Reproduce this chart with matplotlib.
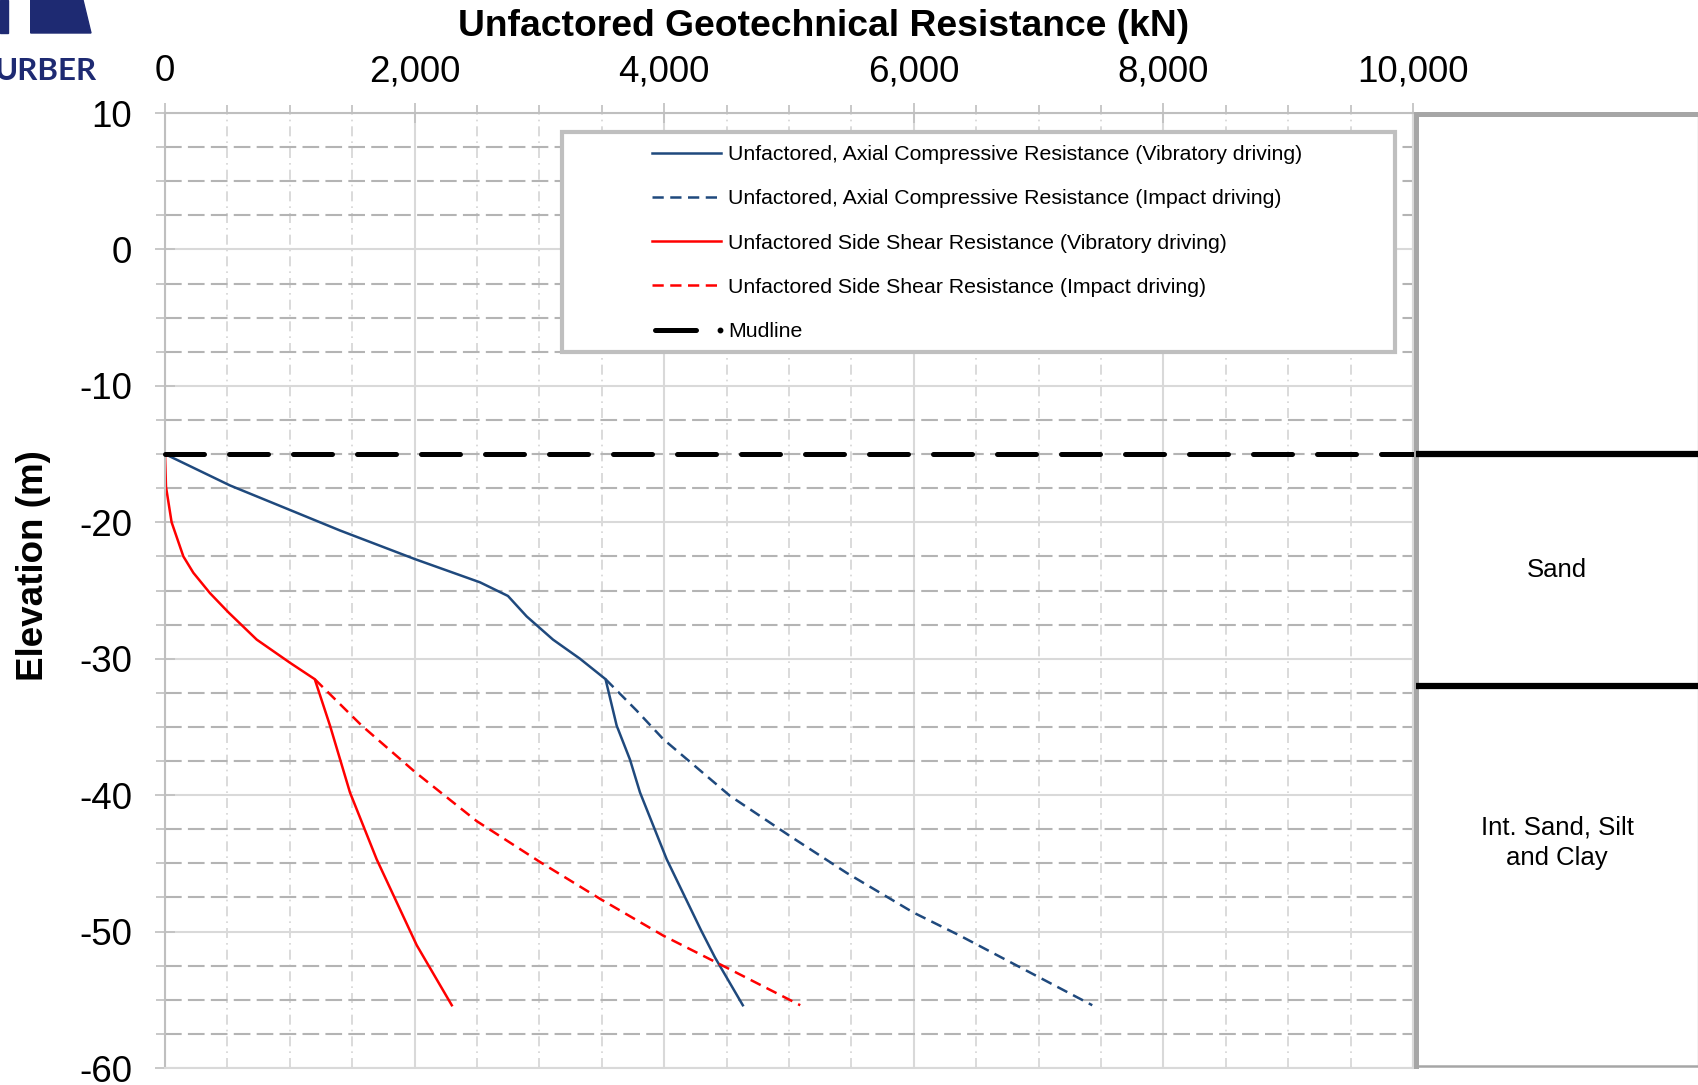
import matplotlib.pyplot as plt
from matplotlib.lines import Line2D
from matplotlib.patches import Rectangle, Polygon
from matplotlib.ticker import MultipleLocator, FuncFormatter

plt.rcParams['font.family'] = ['Liberation Sans', 'DejaVu Sans']

# Resistance (kN) vs elevation (m) for the pile
elev_axial_vib = [-15, -17.3, -19.1, -20.6, -22.7, -24.4, -25.4, -26.9, -28.6, -30.0,
                  -31.5, -34.9, -37.4, -39.8, -44.7, -49.9, -51.9, -55.4]
res_axial_vib = [0, 521, 1002, 1402, 2003, 2524, 2748, 2898, 3109, 3325,
                 3530, 3619, 3726, 3806, 4020, 4295, 4407, 4630]

elev_axial_imp = [-31.5, -33.8, -35.9, -40.05, -43.0, -45.7, -48.6, -50.3, -55.4]
res_axial_imp = [3530, 3779, 3993, 4527, 5008, 5462, 5996, 6370, 7430]

elev_side_vib = [-15, -17.4, -20.0, -22.5, -23.7, -25.2, -26.6, -28.6, -30.3,
                 -31.5, -34.9, -39.8, -44.7, -51.0, -55.4]
res_side_vib = [0, 8, 53, 147, 227, 361, 508, 735, 1002,
                1200, 1322, 1482, 1696, 2017, 2298]

elev_side_imp = [-31.5, -34.9, -38.3, -41.9, -44.9, -47.6, -50.3, -52.5, -55.4]
res_side_imp = [1200, 1576, 2003, 2497, 3005, 3486, 3993, 4469, 5090]

mudline_elev = -15
layer_tops = [-15, -32]
layer_names = ['Sand', 'Int. Sand, Silt\nand Clay']
layer_label_elev = [-23.5, -43.5]

labels = ['Unfactored, Axial Compressive Resistance (Vibratory driving)',
          'Unfactored, Axial Compressive Resistance (Impact driving)',
          'Unfactored Side Shear Resistance (Vibratory driving)',
          'Unfactored Side Shear Resistance (Impact driving)',
          'Mudline']

BLUE = '#1F497D'
RED = '#FF0000'
NAVY = '#1E2A72'

W, H = 1699, 1085
fig = plt.figure(figsize=(W / 100, H / 100), dpi=100)


def fx(x):
    return x / W


def fy(y):
    return 1 - y / H


ax = fig.add_axes([fx(165), fy(1068), (1413 - 165) / W, (1068 - 113) / H])

l1, = ax.plot(res_axial_vib, elev_axial_vib, color=BLUE, lw=1.8)
l2, = ax.plot(res_axial_imp, elev_axial_imp, color=BLUE, lw=1.8, ls=(0, (4.5, 2.6)))
l3, = ax.plot(res_side_vib, elev_side_vib, color=RED, lw=1.8)
l4, = ax.plot(res_side_imp, elev_side_imp, color=RED, lw=1.8, ls=(0, (4.5, 2.6)))
l5, = ax.plot([0, 10000], [mudline_elev, mudline_elev], color='black', lw=3.6,
              ls=(0, (7.8, 5.0)), dash_capstyle='round', clip_on=False, zorder=3)

ax.set_xlim(0, 10000)
ax.set_ylim(-60, 10)
ax.xaxis.tick_top()
ax.xaxis.set_major_locator(MultipleLocator(2000))
ax.xaxis.set_minor_locator(MultipleLocator(500))
ax.yaxis.set_major_locator(MultipleLocator(10))
ax.yaxis.set_minor_locator(MultipleLocator(2.5))
ax.xaxis.set_major_formatter(FuncFormatter(lambda v, p: f'{v:,.0f}'))
ax.yaxis.set_major_formatter(FuncFormatter(lambda v, p: f'{v:.0f}'))

ax.tick_params(axis='x', which='major', direction='inout', length=14.4, width=1.2,
               color='#BFBFBF', labelsize=26.5, pad=10)
ax.tick_params(axis='x', which='minor', direction='out', length=5.8, width=1.2, color='#BFBFBF')
ax.tick_params(axis='y', which='major', direction='inout', length=14.4, width=1.2,
               color='#BFBFBF', labelsize=26.5, pad=16.5)
ax.tick_params(axis='y', which='minor', direction='out', length=6.5, width=1.2, color='#BFBFBF')

ax.grid(which='major', axis='x', color='#D9D9D9', lw=1.5)
ax.grid(which='minor', axis='x', color='#D4D4D4', lw=1.2, ls=(0, (6, 3, 1, 3)))
ax.grid(which='major', axis='y', color='#D9D9D9', lw=1.5)
ax.grid(which='minor', axis='y', color='#B4B4B4', lw=1.5, ls=(0, (8, 3)))
ax.set_axisbelow(True)

for side in ['left', 'top']:
    ax.spines[side].set_color('#BFBFBF')
    ax.spines[side].set_linewidth(1.5)
for side in ['bottom', 'right']:
    ax.spines[side].set_color('#D9D9D9')
    ax.spines[side].set_linewidth(1.5)

fig.text(fx(824), fy(27), 'Unfactored Geotechnical Resistance (kN)', ha='center', va='center',
         fontsize=26.8, fontweight='bold')
fig.text(fx(34), fy(566), 'Elevation (m)', ha='center', va='center', rotation=90,
         fontsize=26.5, fontweight='bold')

# soil profile column on the right
ax2 = fig.add_axes([fx(1416), fy(1066), (1698 - 1416) / W, (1066 - 114) / H])
ax2.set_xlim(0, 1)
ax2.set_ylim(-59.85, 9.9)
ax2.set_xticks([])
ax2.set_yticks([])
for side in ['left', 'top']:
    ax2.spines[side].set_color('#A6A6A6')
    ax2.spines[side].set_linewidth(3.6)
ax2.spines['bottom'].set_color('#A6A6A6')
ax2.spines['bottom'].set_linewidth(1.8)
ax2.spines['right'].set_color('#C8C8C8')
ax2.spines['right'].set_linewidth(1.0)
for top in layer_tops:
    ax2.axhline(top, color='black', lw=4.5, zorder=3)
for name, e in zip(layer_names, layer_label_elev):
    ax2.text(0.5, e, name, ha='center', va='center', fontsize=18.5, linespacing=1.32)

# logo in the corner
fig.add_artist(Polygon([(fx(0), fy(0)), (fx(8), fy(0)), (fx(8), fy(33)), (fx(0), fy(33))],
                       closed=True, color=NAVY, transform=fig.transFigure))
fig.add_artist(Polygon([(fx(30.7), fy(0)), (fx(83), fy(0)), (fx(91), fy(33)), (fx(30.7), fy(33))],
                       closed=True, color=NAVY, transform=fig.transFigure))
fig.text(fx(97), fy(80), 'URBER', ha='right', va='baseline', color=NAVY,
         fontsize=22.5, fontweight='bold', family='Lato')


class MudlineHandler:
    def legend_artist(self, legend, orig_handle, fontsize, handlebox):
        x0, y0 = handlebox.xdescent, handlebox.ydescent
        w, h = handlebox.width, handlebox.height
        line = Line2D([x0 + 2, x0 + 0.64 * w], [y0 + h / 2] * 2, color='black', lw=3.6,
                      solid_capstyle='round')
        dot = Line2D([x0 + w * 0.985], [y0 + h / 2], marker='o', ms=3.2, color='black', lw=0)
        handlebox.add_artist(line)
        handlebox.add_artist(dot)
        return line


fig.add_artist(Rectangle((fx(562), fy(352)), (1395 - 562) / W, (352 - 132) / H,
                         transform=fig.transFigure, facecolor='white', edgecolor='#BFBFBF',
                         lw=3.0, zorder=4))
leg = fig.legend([l1, l2, l3, l4, l5], labels, loc='upper left',
                 bbox_to_anchor=(fx(652), fy(145)), frameon=False, fontsize=15.3,
                 handlelength=3.25, handletextpad=0.33, labelspacing=1.19,
                 borderpad=0, borderaxespad=0, handler_map={l5: MudlineHandler()})
leg.set_zorder(5)

fig.savefig('out.png', dpi=100)
